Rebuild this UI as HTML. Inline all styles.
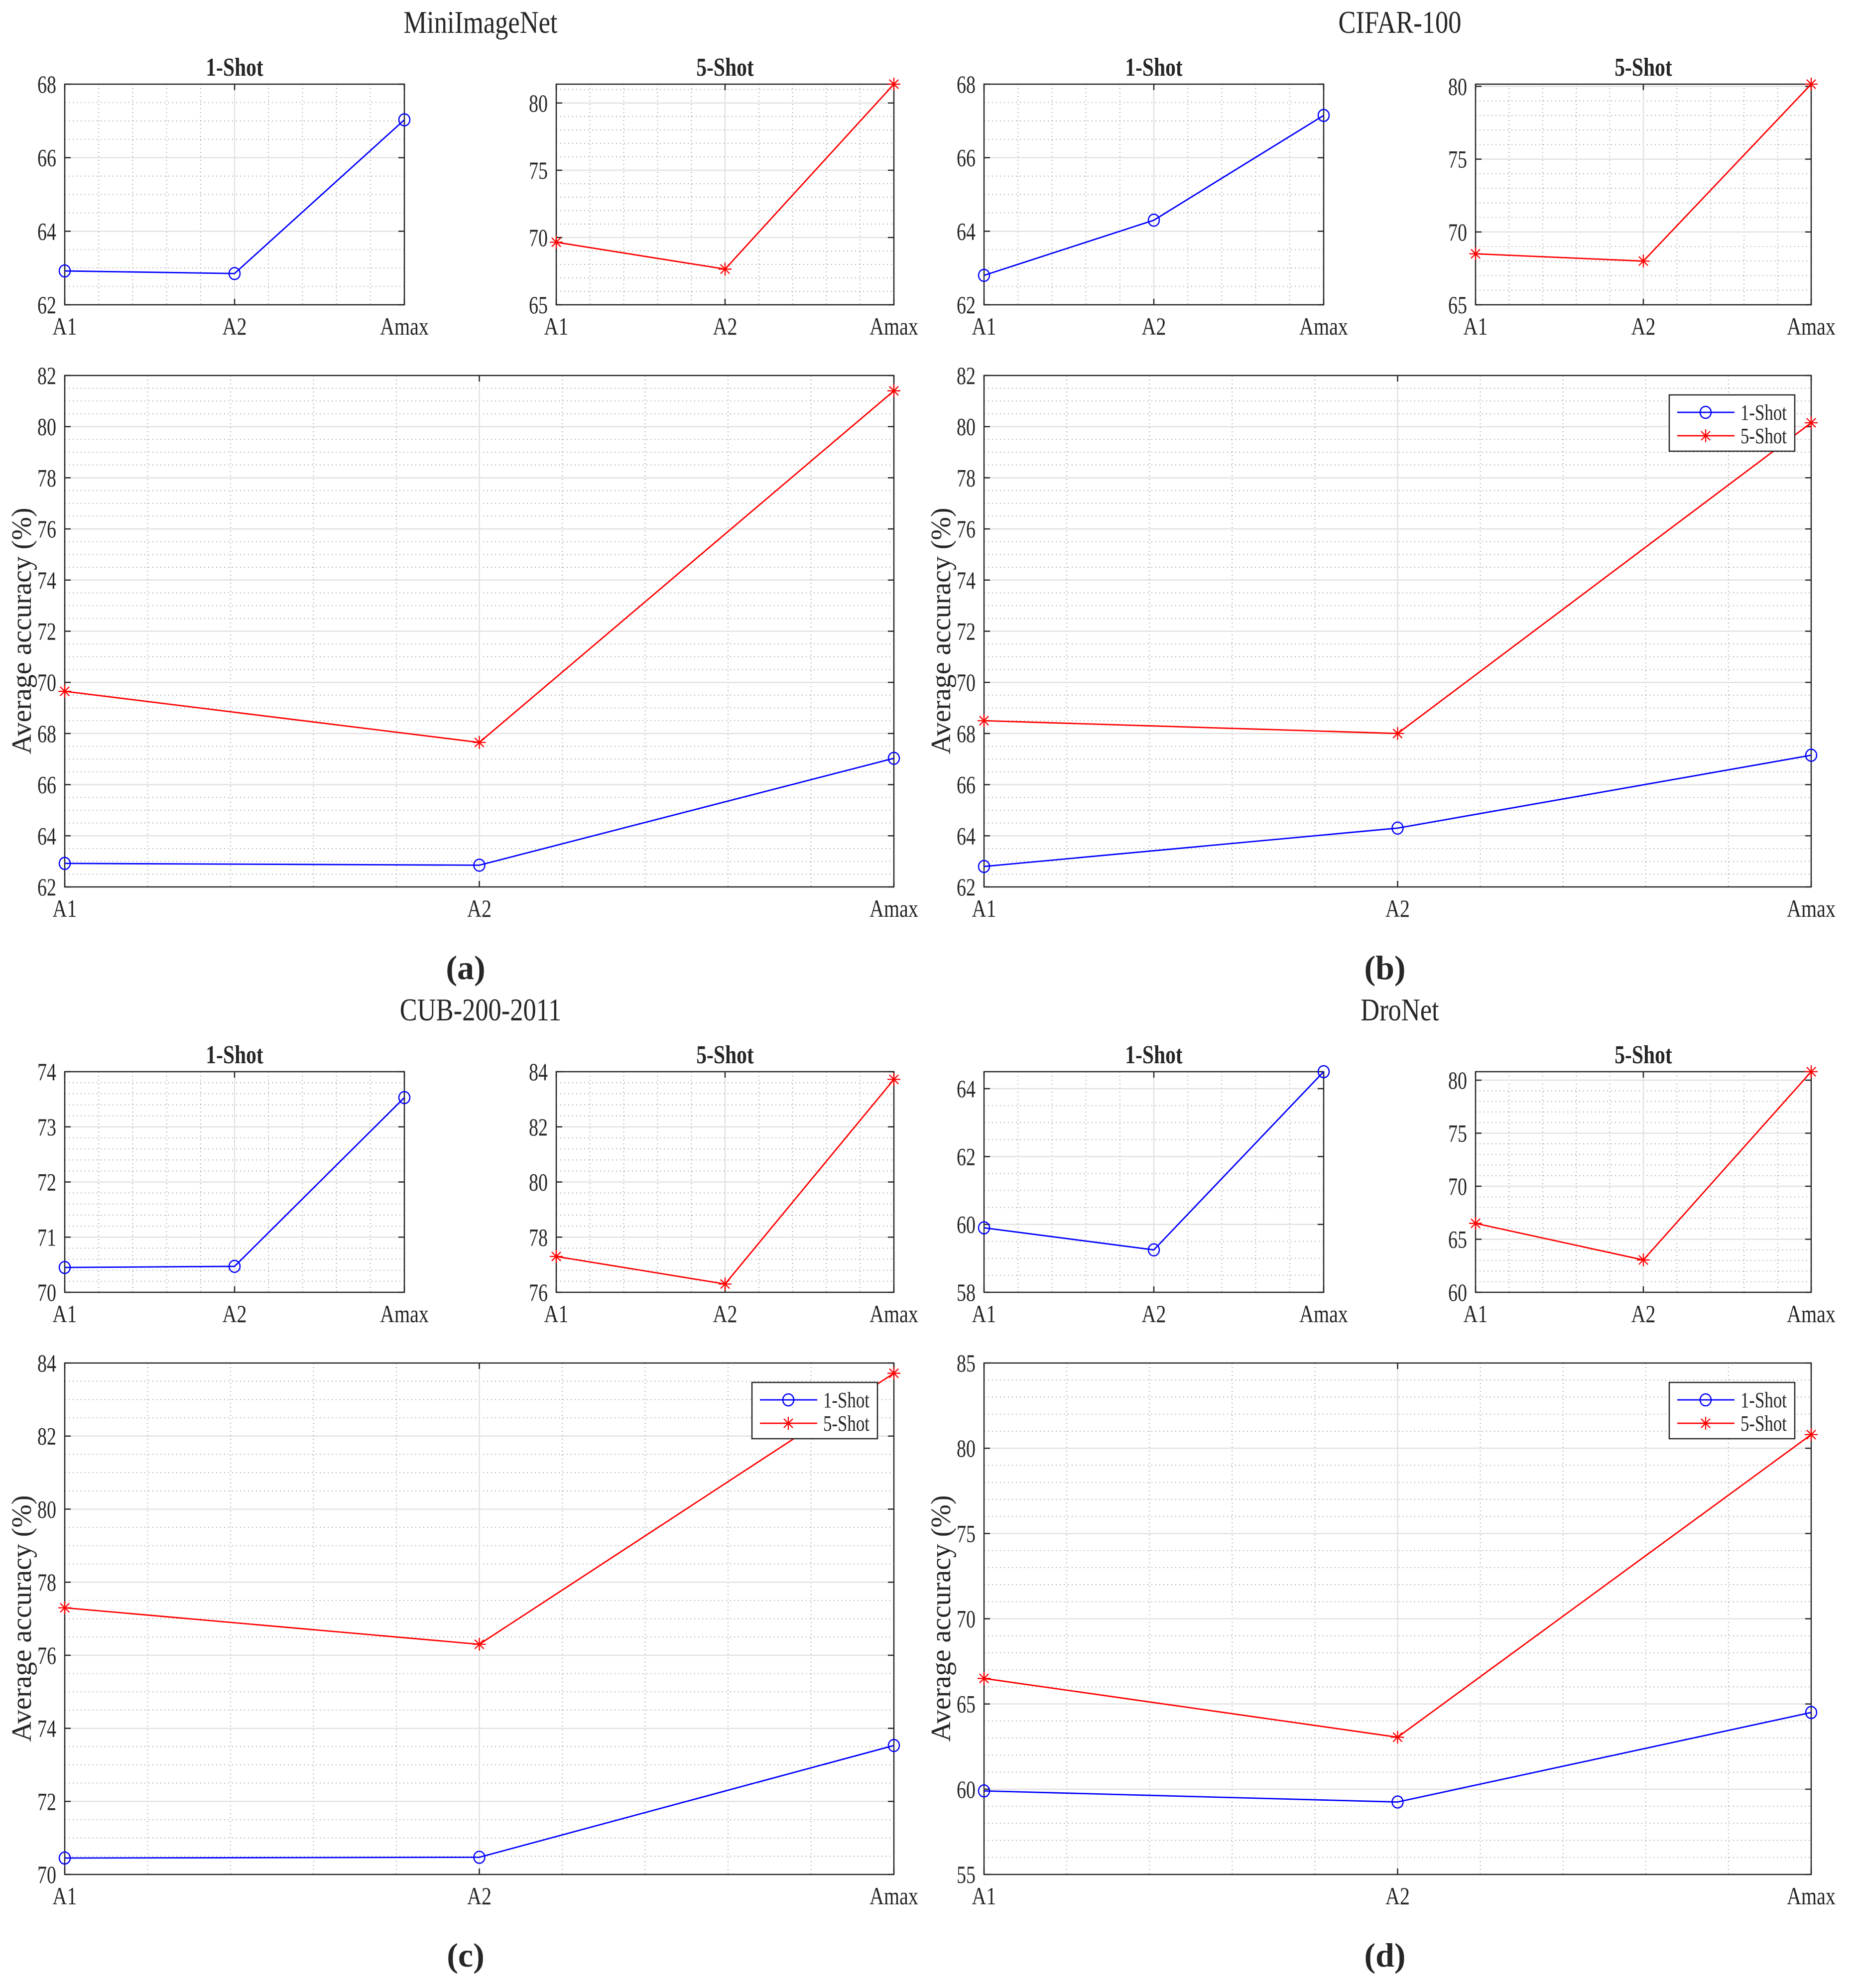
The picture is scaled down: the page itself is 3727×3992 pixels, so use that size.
<!DOCTYPE html>
<html><head><meta charset="utf-8">
<style>
html,body{margin:0;padding:0;background:#fff;}
svg{display:block;}
text{font-family:"Liberation Serif",serif;fill:#262626;}
</style></head>
<body>
<svg id="fig" width="3727" height="3992" viewBox="0 0 3727 3992" xmlns="http://www.w3.org/2000/svg"></svg>
<script>
// ---- data ----
const categories = ["A1", "A2", "Amax"];
const miniOneShot = [62.92, 62.85, 67.03];
const miniFiveShot = [69.65, 67.65, 81.4];
const cifarOneShot = [62.8, 64.3, 67.15];
const cifarFiveShot = [68.5, 68.0, 80.15];
const cubOneShot = [70.45, 70.47, 73.53];
const cubFiveShot = [77.3, 76.3, 83.72];
const droOneShot = [59.9, 59.25, 64.5];
const droFiveShot = [66.5, 63.05, 80.8];
const panelTitles = ["MiniImageNet", "CIFAR-100", "CUB-200-2011", "DroNet"];
const panelLetters = ["(a)", "(b)", "(c)", "(d)"];
const miniTicks1 = [62, 64, 66, 68], miniTicks5 = [65, 70, 75, 80], miniTicksBig = [62,64,66,68,70,72,74,76,78,80,82];
const cifarTicks1 = [62, 64, 66, 68], cifarTicks5 = [65, 70, 75, 80], cifarTicksBig = [62,64,66,68,70,72,74,76,78,80,82];
const cubTicks1 = [70, 71, 72, 73, 74], cubTicks5 = [76, 78, 80, 82, 84], cubTicksBig = [70,72,74,76,78,80,82,84];
const droTicks1 = [58, 60, 62, 64], droTicks5 = [60, 65, 70, 75, 80], droTicksBig = [55,60,65,70,75,80,85];
const miniLims = [[62,68],[65,81.4],[62,82]];
const cifarLims = [[62,68],[65,80.15],[62,82]];
const cubLims = [[70,74],[76,84],[70,84]];
const droLims = [[58,64.5],[60,80.8],[55,85]];

const NS = "http://www.w3.org/2000/svg";
const svg = document.getElementById("fig");
function mk(tag, attrs, parent) {
  const e = document.createElementNS(NS, tag);
  for (const k in attrs) e.setAttribute(k, attrs[k]);
  (parent || svg).appendChild(e);
  return e;
}
const condensed = [];
function cond(t, f) { condensed.push([t, f]); }

function drawAxes(g, x0, y0, x1, y1, lim, ticks, minorN, series) {
  const sx = i => x0 + (x1 - x0) * i / (categories.length - 1);
  const sy = v => y1 - (y1 - y0) * (v - lim[0]) / (lim[1] - lim[0]);
  const step = ticks[1] - ticks[0];
  for (let t = ticks[0] - step; t <= lim[1] + step; t += step) {
    for (let m = 1; m <= minorN; m++) {
      const v = t + step * m / (minorN + 1);
      if (v <= lim[0] || v >= lim[1]) continue;
      const l = mk("line", {x1:x0, x2:x1, y1:sy(v), y2:sy(v), stroke:"#b0b0b0", "stroke-width":2, "stroke-dasharray":"2 6"}, g);
      
      
    }
  }
  for (let i = 0; i < categories.length - 1; i++) {
    for (let m = 1; m <= 4; m++) {
      const x = sx(i + m / 5);
      const l = mk("line", {x1:x, x2:x, y1:y0, y2:y1, stroke:"#b0b0b0", "stroke-width":2, "stroke-dasharray":"2 6"}, g);
      
      
    }
  }
  ticks.forEach(t => {
    if (t <= lim[0] || t >= lim[1]) return;
    const l = mk("line", {x1:x0, x2:x1, y1:sy(t), y2:sy(t), stroke:"#e2e2e2", "stroke-width":2.5}, g);
    
    
  });
  for (let i = 1; i < categories.length - 1; i++) {
    const l = mk("line", {x1:sx(i), x2:sx(i), y1:y0, y2:y1, stroke:"#e2e2e2", "stroke-width":2.5}, g);
    
    
  }
  const fr = mk("rect", {x:x0, y:y0, width:x1-x0, height:y1-y0, fill:"none", stroke:"#262626", "stroke-width":2.5}, g);
  
  
  ticks.forEach(t => {
    const y = sy(t);
    mk("line", {x1:x0, x2:x0+12, y1:y, y2:y, stroke:"#262626", "stroke-width":2.5}, g);
    mk("line", {x1:x1, x2:x1-12, y1:y, y2:y, stroke:"#262626", "stroke-width":2.5}, g);
    const tx = mk("text", {x:x0-17, y:y+17, "text-anchor":"end", "font-size":50}, g);
    tx.textContent = t;
    
    
    cond(tx, 0.76);
  });
  categories.forEach((c, i) => {
    const x = sx(i);
    mk("line", {x1:x, x2:x, y1:y1, y2:y1-12, stroke:"#262626", "stroke-width":2.5}, g);
    mk("line", {x1:x, x2:x, y1:y0, y2:y0+12, stroke:"#262626", "stroke-width":2.5}, g);
    const tx = mk("text", {x:x, y:y1+60, "text-anchor":"middle", "font-size":50}, g);
    tx.textContent = c;
    
    
    cond(tx, 0.8);
  });
  series.forEach(s => {
    const pts = s.values.map((v, i) => sx(i) + "," + sy(v)).join(" ");
    const pl = mk("polyline", {points:pts, fill:"none", stroke:s.color, "stroke-width":2.8}, g);
    
    
    s.values.forEach((v, i) => drawMarker(g, sx(i), sy(v), s));
  });
}

function drawMarker(g, x, y, s) {
  if (s.marker === "o") {
    const c = mk("ellipse", {cx:x, cy:y, rx:11, ry:12, fill:"none", stroke:s.color, "stroke-width":2.5}, g);
    
    
  } else {
    const m = mk("g", {stroke:s.color, "stroke-width":2.3}, g);
    
    
    const r = 13;
    mk("line", {x1:x, x2:x, y1:y-r, y2:y+r}, m);
    mk("line", {x1:x-r, x2:x+r, y1:y, y2:y}, m);
    mk("line", {x1:x-r*0.7, x2:x+r*0.7, y1:y-r*0.7, y2:y+r*0.7}, m);
    mk("line", {x1:x-r*0.7, x2:x+r*0.7, y1:y+r*0.7, y2:y-r*0.7}, m);
  }
}

function drawLegend(g, xr, yt) {
  const bx = xr - 33 - 252, by = yt + 39;
  const lg = mk("g", {}, g);
  
  
  mk("rect", {x:bx, y:by, width:252, height:113, fill:"#fff", stroke:"#262626", "stroke-width":2.5}, lg);
  const rows = [{name:"one-shot", label:"1-Shot", color:"#0000ff", marker:"o"},
                {name:"five-shot", label:"5-Shot", color:"#ff0000", marker:"*"}];
  rows.forEach((r, k) => {
    const y = by + 35 + k * 47;
    const e = mk("g", {}, lg);
    
    
    mk("line", {x1:bx+16, x2:bx+131, y1:y, y2:y, stroke:r.color, "stroke-width":2.8}, e);
    drawMarker(e, bx+73, y, r);
    const t = mk("text", {x:bx+143, y:y+15, "font-size":44, fill:"#000", textLength:93, lengthAdjust:"spacingAndGlyphs"}, e);
    t.textContent = r.label;
  });
}

const panels = [
  {ox:0, oy:0, one:miniOneShot, five:miniFiveShot, t1:miniTicks1, t5:miniTicks5, tb:miniTicksBig, lims:miniLims, legend:false, xr:1795},
  {ox:1846, oy:0, one:cifarOneShot, five:cifarFiveShot, t1:cifarTicks1, t5:cifarTicks5, tb:cifarTicksBig, lims:cifarLims, legend:true, xr:1791},
  {ox:0, oy:1983, one:cubOneShot, five:cubFiveShot, t1:cubTicks1, t5:cubTicks5, tb:cubTicksBig, lims:cubLims, legend:true, xr:1795},
  {ox:1846, oy:1983, one:droOneShot, five:droFiveShot, t1:droTicks1, t5:droTicks5, tb:droTicksBig, lims:droLims, legend:true, xr:1791}
];
function minorFor(ticks) { const s = ticks[1]-ticks[0]; return s === 2 ? 3 : 4; }

panels.forEach((p, k) => {
  const g = mk("g", {transform:"translate(" + p.ox + "," + p.oy + ")"});
  
  
  const title = mk("text", {x:965, y:66, "text-anchor":"middle", "font-size":64}, g);
  title.textContent = panelTitles[k];
  
  
  cond(title, 0.82);
  const s1 = mk("text", {x:471, y:152, "text-anchor":"middle", "font-size":52, "font-weight":"bold"}, g);
  s1.textContent = "1-Shot";
  
  
  cond(s1, 0.8);
  const s2 = mk("text", {x:(1117+p.xr)/2, y:152, "text-anchor":"middle", "font-size":52, "font-weight":"bold"}, g);
  s2.textContent = "5-Shot";
  
  
  cond(s2, 0.8);

  const blue = {name:"one-shot", values:p.one, color:"#0000ff", marker:"o"};
  const red = {name:"five-shot", values:p.five, color:"#ff0000", marker:"*"};
  drawAxes(g, 130, 169, 812, 612, p.lims[0], p.t1, minorFor(p.t1), [blue]);
  drawAxes(g, 1117, 169, p.xr, 612, p.lims[1], p.t5, 4, [red]);
  drawAxes(g, 130, 754, p.xr, 1781, p.lims[2], p.tb, minorFor(p.tb), [red, blue]);
  if (p.legend) drawLegend(g, p.xr, 754);

  const yl = mk("text", {x:0, y:0, "text-anchor":"middle", "font-size":56, textLength:495, lengthAdjust:"spacingAndGlyphs", transform:"translate(62,1267) rotate(-90)"}, g);
  yl.textContent = "Average accuracy (%)";
  
  
  const lt = mk("text", {x:935, y:1966, "text-anchor":"middle", "font-size":68, "font-weight":"bold", fill:"#000"}, g);
  lt.textContent = panelLetters[k];
  
  
});

condensed.forEach(([t, f]) => {
  const w = t.getComputedTextLength();
  t.setAttribute("textLength", (w * f).toFixed(1));
  t.setAttribute("lengthAdjust", "spacingAndGlyphs");
});
</script>
</body></html>
